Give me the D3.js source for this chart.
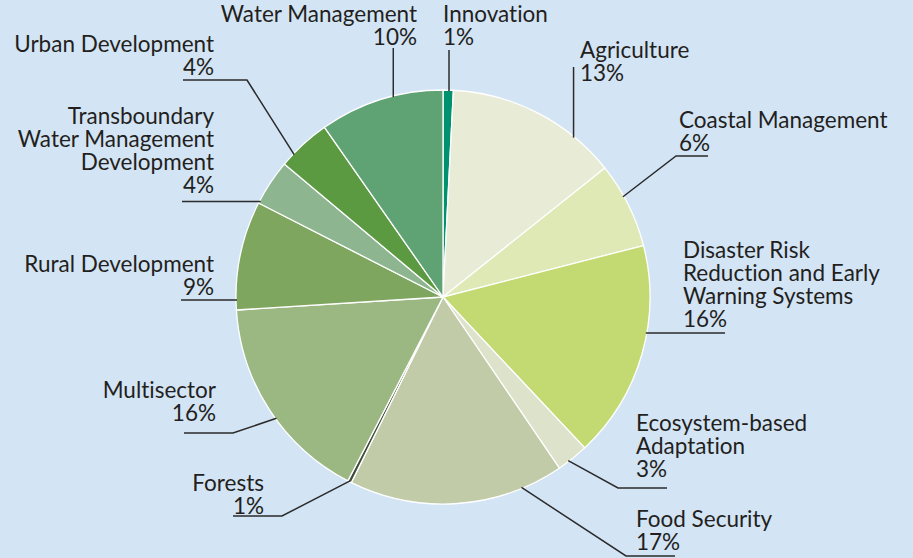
<!DOCTYPE html>
<html><head><meta charset="utf-8">
<script src="https://cdn.jsdelivr.net/npm/d3@7"></script>
<style>
html,body{margin:0;padding:0;background:#d3e4f5;}
svg{display:block;}
text{font-family:"Lato","Liberation Sans",sans-serif;font-size:22.5px;fill:#231f20;font-variant-ligatures:none;font-feature-settings:"liga" 0;}
</style></head>
<body><svg id="c" width="913" height="558"></svg>
<script>
// ---- data ----
const categories = ["Innovation","Agriculture","Coastal Management","Disaster Risk Reduction and Early Warning Systems","Ecosystem-based Adaptation","Food Security","Forests","Multisector","Rural Development","Transboundary Water Management Development","Urban Development","Water Management"];
const values = [0.8, 13.5, 6.7, 17.0, 2.5, 16.8, 0.3, 16.4, 8.5, 3.6, 4.2, 9.7];
const pctLabels = ["1%","13%","6%","16%","3%","17%","1%","16%","9%","4%","4%","10%"];
const labelLines = [["Innovation"],["Agriculture"],["Coastal Management"],["Disaster Risk","Reduction and Early","Warning Systems"],["Ecosystem-based","Adaptation"],["Food Security"],["Forests"],["Multisector"],["Rural Development"],["Transboundary","Water Management","Development"],["Urban Development"],["Water Management"]];
const colors = ["#00916f","#e8ecd6","#dfe9b6","#c3da72","#dde3cb","#c1cba8","#3f4d3a","#9bb882","#7fa65e","#8db58f","#5c9a42","#5fa374"];

// ---- layout (label placement) ----
const cx = 443, cy = 297, R = 207;
const layout = [
  {x:443, y:22, a:"start", t:0.58, pts:"vert", top:50},
  {x:580, y:58, a:"start", t:0.75, pts:"vert", top:67},
  {x:679, y:128, a:"start", t:0.39, pts:[[676,156],[708,156]]},
  {x:683, y:258, a:"start", t:0.40, pts:[[725,"h"]]},
  {x:636, y:431, a:"start", t:0.64, pts:[[618,488],[667,488]]},
  {x:636, y:527, a:"start", t:0.195, pts:[[626,556],[675,556]]},
  {x:264, y:491, a:"end", t:0.5, pts:[[282,516],[233,516]]},
  {x:216, y:398, a:"end", t:0.45, pts:[[233,433],[184,433]]},
  {x:214, y:272, a:"end", t:0.09, pts:[[181,"h"]]},
  {x:214, y:124, a:"end", t:0.05, pts:[[182,"h"]]},
  {x:214, y:52, a:"end", t:0.25, pts:[[247,80],[183,80]]},
  {x:417, y:22, a:"end", t:0.6, pts:"vert", top:48}
];
const lineH = 23;

const svg = d3.select("#c");
const g = svg.append("g").attr("transform",`translate(${cx},${cy})`);
const pie = d3.pie().sort(null).value(d=>d)(values);
const arc = d3.arc().innerRadius(0).outerRadius(R);
g.selectAll("path.s").data(pie).join("path").attr("class","s")
  .attr("d",arc).attr("fill",(d,i)=>colors[i])
  .attr("stroke","#ffffff").attr("stroke-width",1.3).attr("stroke-linejoin","round");

const lines = svg.append("g");
pie.forEach((d,i)=>{
  const L = layout[i];
  const ang = d.startAngle + L.t*(d.endAngle-d.startAngle);
  const px = cx + Math.sin(ang)*(R-1), py = cy - Math.cos(ang)*(R-1);
  let pts = [[px,py]];
  if (L.pts==="vert") pts.push([px,L.top]);
  else L.pts.forEach(p=>{ pts.push([p[0], p[1]==="h"?py:p[1]]); });
  lines.append("path").attr("d",d3.line()(pts)).attr("fill","none")
    .attr("stroke","#2b2b2b").attr("stroke-width",1.5);
  const all = labelLines[i].concat([pctLabels[i]]);
  all.forEach((s,k)=>svg.append("text").attr("text-anchor",L.a)
    .attr("x",L.x).attr("y",L.y+k*lineH).text(s));
});
</script></body></html>
